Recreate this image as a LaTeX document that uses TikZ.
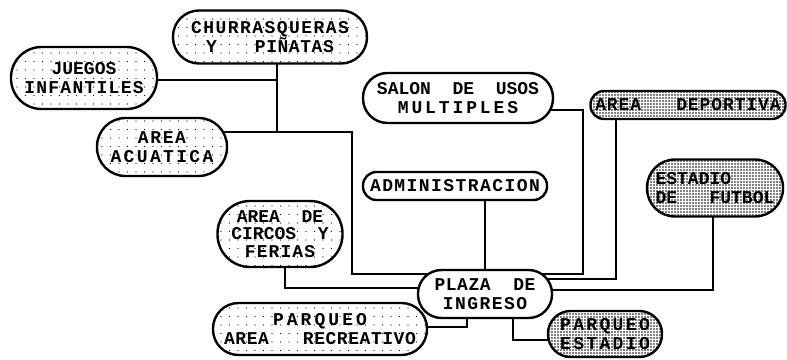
\documentclass[tikz,border=0pt]{standalone}
\usepackage{fontspec}
\newfontfamily\lblfont{Liberation Mono}
\usetikzlibrary{patterns.meta,backgrounds}
\newcommand\lsp[2]{{\addfontfeature{LetterSpace=#1}#2}}
\tikzset{
  box/.style={draw, line width=2.4pt, inner sep=0pt, align=center, fill=white,
    font=\lblfont\bfseries\fontsize{18}{19}\selectfont},
  sparse/.style={preaction={fill=white}, pattern={Dots[radius=0.6pt,distance=8.5pt]}},
  dense/.style={preaction={fill=white}, pattern={Dots[radius=0.9pt,distance=3pt]}},
  conn/.style={line width=2pt},
}
\begin{document}
\begin{tikzpicture}[x=1pt,y=-1pt]
\useasboundingbox (0,0) rectangle (787,359);
% nodes
\node[box, sparse, minimum width=194pt, minimum height=53pt, rounded corners=26pt] (churr) at (270,37)
  {\lsp{8}{CHURRASQUERAS}\\Y\hspace{38pt}\lsp{3}{PIÑATAS}};
\node[box, sparse, minimum width=146pt, minimum height=62pt, rounded corners=30.5pt] (juegos) at (84,78)
  {JUEGOS\\\lsp{7}{INFANTILES}};
\node[box, sparse, minimum width=130pt, minimum height=58pt, rounded corners=28.5pt] (acuatica) at (162,147)
  {\lsp{9}{AREA}\\\lsp{13}{ACUATICA}};
\node[box, minimum width=190pt, minimum height=50pt, rounded corners=24.5pt] (salon) at (458,98)
  {SALON~~DE~~USOS\\\lsp{16}{MULTIPLES}};
\node[box, dense, minimum width=195pt, minimum height=28pt, rounded corners=13.5pt] (deportiva) at (688,105)
  {\lsp{5}{AREA~~~DEPORTIVA}};
\node[box, minimum width=184pt, minimum height=28pt, rounded corners=13.5pt] (admin) at (455,186)
  {\lsp{8}{ADMINISTRACION}};
\node[box, dense, minimum width=136pt, minimum height=57pt, rounded corners=28pt, align=left] (estadio) at (715,188)
  {ESTADIO\\DE~~~FUTBOL};
\node[box, sparse, minimum width=125pt, minimum height=66pt, rounded corners=32.5pt,
  font=\lblfont\bfseries\fontsize{18}{17.5}\selectfont] (circos) at (280,234)
  {AREA~~DE\\CIRCOS~~Y\\\lsp{6}{FERIAS}};
\node[box, minimum width=134pt, minimum height=48pt, rounded corners=23.5pt] (plaza) at (485,294)
  {\lsp{3}{PLAZA~~DE}\\\lsp{8}{INGRESO}};
\node[box, sparse, minimum width=214pt, minimum height=52pt, rounded corners=25.5pt] (parqA) at (320,329)
  {\lsp{17}{PARQUEO}\\\lsp{3}{AREA~~~RECREATIVO}};
\node[box, dense, minimum width=114pt, minimum height=46pt, rounded corners=22.5pt] (parqE) at (605,334)
  {\lsp{13}{PARQUEO}\\\lsp{13}{ESTADIO}};
% junction coordinates
\coordinate (j1) at (277,80);
\coordinate (j2) at (277,132);
\coordinate (j3) at (352,132);
\coordinate (j4) at (352,274);
\coordinate (j5) at (583,274);
\coordinate (j6) at (583,110);
\coordinate (j7) at (616,279);
\coordinate (j8) at (713,290);
\coordinate (j9) at (285,288);
\coordinate (j10) at (467,327);
\coordinate (j11) at (513,340);
\coordinate (j12) at (485,250);
% connectors
\begin{scope}[on background layer]
\draw[conn] (churr.center -| j1) -- (j2);
\draw[conn] (juegos.center |- j1) -- (j1);
\draw[conn] (acuatica.center |- j2) -- (j3) -- (j4) -- (j5) -- (j6) -- (salon.center |- j6);
\draw[conn] (admin.center -| j12) -- (plaza.center -| j12);
\draw[conn] (deportiva.center -| j7) -- (j7) -- (plaza.center |- j7);
\draw[conn] (estadio.center -| j8) -- (j8) -- (plaza.center |- j8);
\draw[conn] (circos.center -| j9) -- (j9) -- (plaza.center |- j9);
\draw[conn] (plaza.center -| j10) -- (j10) -- (parqA.center |- j10);
\draw[conn] (plaza.center -| j11) -- (j11) -- (parqE.center |- j11);
\end{scope}
\end{tikzpicture}
\end{document}
